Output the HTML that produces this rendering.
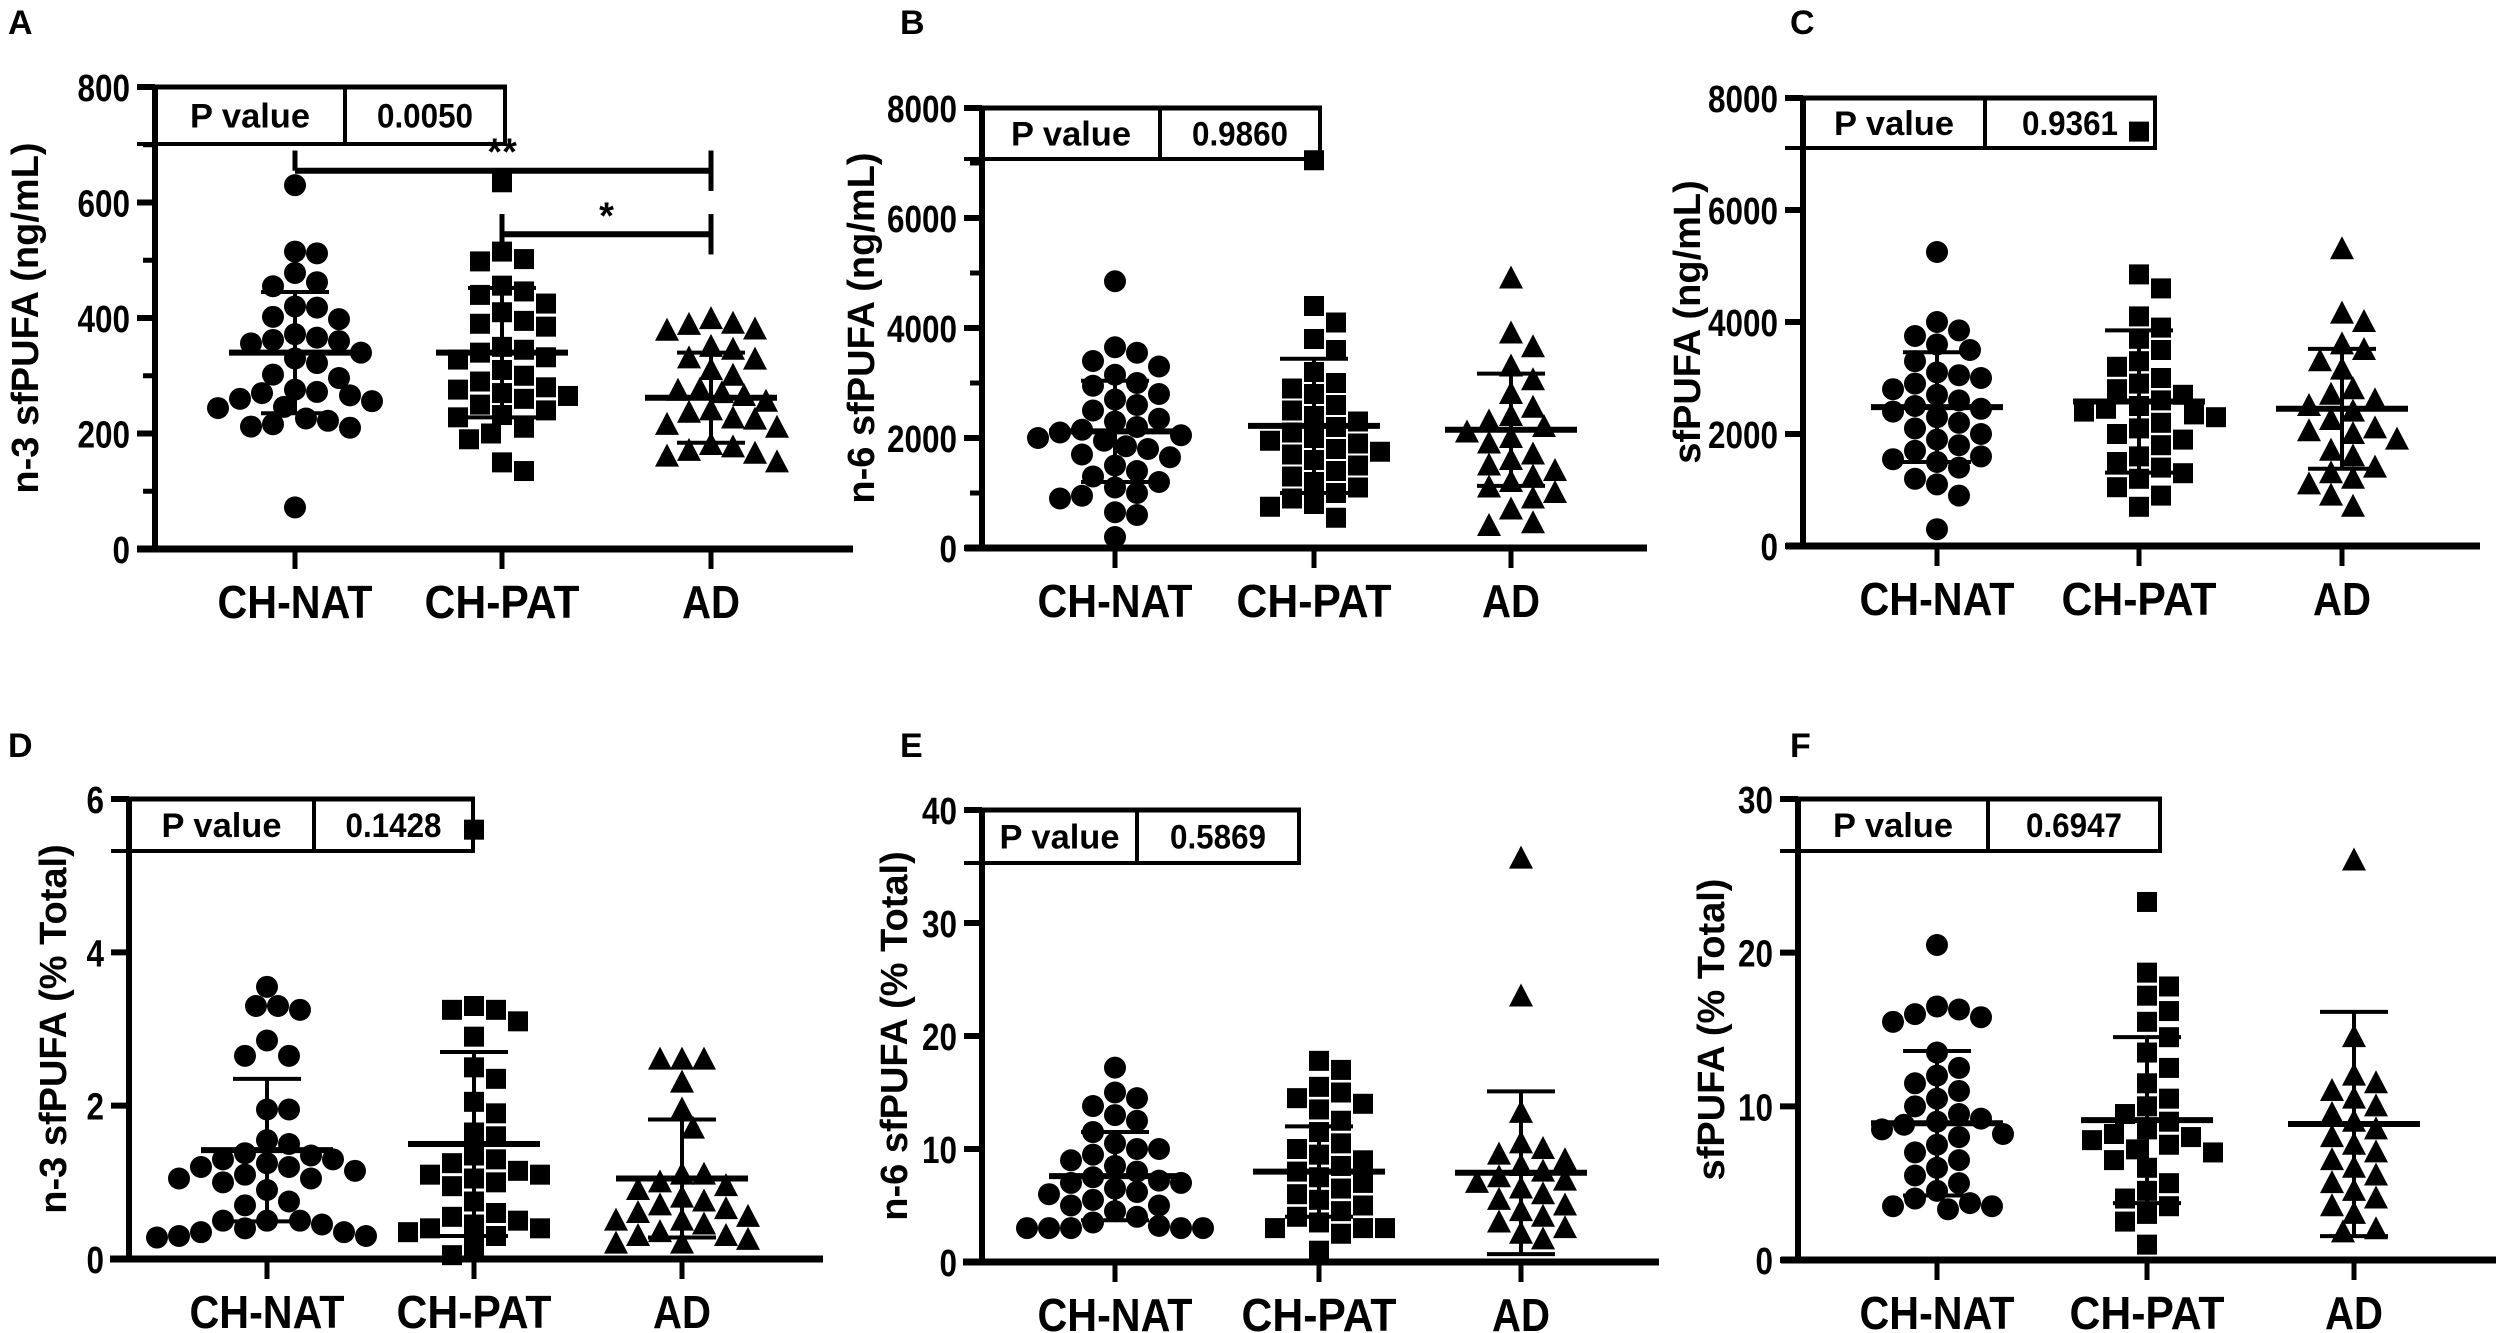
<!DOCTYPE html>
<html>
<head>
<meta charset="utf-8">
<style>
  html,body{margin:0;padding:0;background:#fff;}
  svg{display:block;}
  .tick{font-family:"Liberation Sans Narrow","Liberation Sans",sans-serif;font-weight:bold;font-size:38px;fill:#000;}
  .cat{font-family:"Liberation Sans Narrow","Liberation Sans",sans-serif;font-weight:bold;font-size:46px;fill:#000;}
  .ptxt{font-family:"Liberation Sans Narrow","Liberation Sans",sans-serif;font-weight:bold;font-size:34px;fill:#000;}
  .ttl{font-family:"Liberation Sans",sans-serif;font-weight:bold;font-size:38px;fill:#000;}
  .letter{font-family:"Liberation Sans",sans-serif;font-weight:bold;font-size:34px;fill:#000;}
</style>
</head>
<body>
<svg id="fig" xmlns="http://www.w3.org/2000/svg" width="2500" height="1333" viewBox="0 0 2500 1333"></svg>
<script>
// ---------- DATA ----------
const categories = ["CH-NAT", "CH-PAT", "AD"];

// Panel A: n-3 sfPUFA (ng/mL)
const A_nat = [630,515,512,478,462,455,420,418,402,398,372,366,360,356,362,340,330,322,302,296,276,272,270,266,260,256,246,244,226,222,212,210,216,72];
const A_pat = [635,515,502,498,456,446,440,425,410,395,390,385,350,345,340,332,328,310,300,290,280,276,270,265,260,250,240,232,228,210,200,190,150,135];
const A_ad  = [398,390,388,380,378,350,345,330,328,310,300,276,274,270,265,255,240,236,226,224,215,210,180,176,170,165,160,150];
const A_mean = [340,340,262];
const A_sd = [105,112,78];

// Panel B: n-6 sfPUFA (ng/mL)
const B_nat = [4850,3650,3550,3400,3300,3150,3000,2950,2800,2700,2600,2500,2350,2300,2200,2150,2100,2050,2000,1950,1850,1800,1700,1650,1500,1400,1300,1200,1100,1000,950,900,650,600,200];
const B_pat = [7050,4400,4100,3800,3600,3200,3000,2900,2800,2600,2500,2400,2300,2200,2100,2000,1950,1900,1800,1750,1700,1600,1500,1400,1300,1200,1100,1000,900,800,750,550];
const B_ad  = [4900,3900,3650,3300,3050,2800,2550,2400,2300,2200,2100,2000,1900,1700,1600,1500,1400,1300,1200,1100,1000,900,700,450,400];
const B_mean = [2120,2220,2150];
const B_sd = [920,1220,1020];

// Panel C: sfPUFA (ng/mL)
const C_nat = [5250,4000,3850,3750,3600,3500,3300,3100,3050,3000,2900,2800,2700,2600,2500,2450,2400,2300,2200,2100,2000,1900,1800,1700,1600,1550,1500,1400,1200,1100,900,300];
const C_pat = [7400,4850,4600,4100,3900,3700,3500,3300,3200,3000,2900,2800,2700,2600,2500,2450,2400,2350,2300,2200,2100,2000,1900,1800,1600,1500,1400,1300,1200,1050,900,700];
const C_ad  = [5300,4150,4000,3600,3500,3300,3150,2800,2700,2600,2500,2400,2250,2100,2050,2000,1900,1700,1600,1400,1300,1200,1100,900,700];
const C_mean = [2480,2580,2450];
const C_sd = [980,1270,1070];

// Panel D: n-3 sfPUFA (% Total)
const D_nat = [3.55,3.3,3.25,3.3,2.85,2.65,2.65,1.95,1.95,1.55,1.5,1.38,1.35,1.3,1.3,1.25,1.2,1.2,1.15,1.1,1.05,1.05,1.0,0.9,0.75,0.7,0.5,0.5,0.5,0.45,0.4,0.35,0.35,0.3,0.3,0.28];
const D_pat = [5.6,3.25,3.3,3.25,3.1,2.9,2.5,2.35,2.05,1.9,1.65,1.6,1.35,1.3,1.25,1.15,1.1,1.1,1.05,1.0,0.95,0.75,0.6,0.55,0.5,0.45,0.4,0.4,0.35,0.3,0.15,0.05];
const D_ad  = [2.6,2.6,2.6,2.3,1.95,1.7,1.1,1.1,1.0,0.95,0.9,0.8,0.75,0.7,0.65,0.6,0.55,0.5,0.5,0.45,0.35,0.3,0.3,0.25,0.2,0.2];
const D_mean = [1.42,1.5,1.05];
const D_sd = [0.93,1.2,0.77];

// Panel E: n-6 sfPUFA (% Total)
const E_nat = [17.2,15,14.5,13.8,13,12.5,11.5,10.5,10,10,9.5,9,8.5,8,7.5,7.2,7,7,6.5,6.2,6,5.5,5,5,4.5,4,3.5,3.2,3,3,3,3,3];
const E_pat = [17.8,17,15.5,15,14.5,14,13.5,12.5,11.5,10.5,10,9.5,9,8.5,8,7.5,7,6.5,6,5.5,5,4.5,4,3.5,3,3,3,2.5,1];
const E_ad  = [35.7,23.5,13.2,10.5,10,9.5,9,8.5,8,7.5,7.2,7,6.5,6,5.5,5,4.5,4,3.5,3,2.5,2];
const E_mean = [7.6,8.0,7.9];
const E_sd = [3.9,4.0,7.2];

// Panel F: sfPUFA (% Total)
const F_nat = [20.5,16.5,16.3,16,15.8,15.5,13.5,12.5,12,11.5,11,10.5,10,9.5,9.2,9,8.8,8.5,8.2,8,7.5,7,6.5,6,5.5,5,4.5,4,3.7,3.5,3.5,3.3];
const F_pat = [23.3,18.7,17.8,17.2,16.2,15.5,14.5,13.5,12.5,11.5,10.5,10,9.5,9,8.5,8.2,8,7.8,7.5,7.2,7,6.5,6,5,4.5,4,3.5,3,2.5,1];
const F_ad  = [26,14.5,12,11.5,11,10.5,10,9.5,9,8.5,8,7.5,7,6.5,6,5.5,5,4.5,4,3.5,3,2,1.8];
const F_mean = [8.9,9.1,8.85];
const F_sd = [4.7,5.4,7.3];

const pValues = ["0.0050","0.9860","0.9361","0.1428","0.5869","0.6947"];
const yTitles = ["n-3 sfPUFA (ng/mL)","n-6 sfPUFA (ng/mL)","sfPUFA (ng/mL)","n-3 sfPUFA (% Total)","n-6 sfPUFA (% Total)","sfPUFA (% Total)"];
const panelLetters = ["A","B","C","D","E","F"];
const yMaxes = [800,8000,8000,6,40,30];
const yTickLabels = [[0,200,400,600,800],[0,2000,4000,6000,8000],[0,2000,4000,6000,8000],[0,2,4,6],[0,10,20,30,40],[0,10,20,30]];
const yMinorTicks = [[100,300,500,700],[1000,3000,5000,7000],[],[],[],[]];
const sigLevels = [655,545]; // A: ** (CH-NAT vs AD), * (CH-PAT vs AD)
const sigLabels = ["**","*"];

// ---------- LAYOUT (pixels, not data) ----------
const layout = [
  {ax:155,y0:549,yTop:87,x1:137,x2:853,cx:[295,502,711],div:345,right:505,tb:144,tx:26,lx:8,ly:34},
  {ax:982,y0:548,yTop:108,x1:965,x2:1647,cx:[1115,1314,1511],div:1160,right:1320,tb:159,tx:862,lx:900,ly:34},
  {ax:1803,y0:546,yTop:98,x1:1786,x2:2480,cx:[1937,2139,2342],div:1985,right:2155,tb:148,tx:1688,lx:1790,ly:34},
  {ax:129,y0:1259,yTop:799,x1:110,x2:823,cx:[267,474,682],div:314,right:473,tb:851,tx:54,lx:8,ly:757},
  {ax:982,y0:1262,yTop:810,x1:963,x2:1659,cx:[1115,1319,1521],div:1137,right:1299,tb:863,tx:895,lx:900,ly:757},
  {ax:1798,y0:1260,yTop:799,x1:1781,x2:2496,cx:[1937,2147,2354],div:1988,right:2160,tb:851,tx:1712,lx:1790,ly:757}
];
const groups = [[A_nat,A_pat,A_ad],[B_nat,B_pat,B_ad],[C_nat,C_pat,C_ad],[D_nat,D_pat,D_ad],[E_nat,E_pat,E_ad],[F_nat,F_pat,F_ad]];
const means = [A_mean,B_mean,C_mean,D_mean,E_mean,F_mean];
const sds = [A_sd,B_sd,C_sd,D_sd,E_sd,F_sd];

const NS = "http://www.w3.org/2000/svg";
const svg = document.getElementById('fig');
function mk(tag, attrs, parent){
  const e = document.createElementNS(NS, tag);
  for (const k in attrs) e.setAttribute(k, attrs[k]);
  (parent||svg).appendChild(e);
  return e;
}

for (let p = 0; p < 6; p++) {
  const L = layout[p];
  const yScale = v => L.y0 - (v / yMaxes[p]) * (L.y0 - L.yTop);
  const g = mk('g', {});
  
  

  const lt = mk('text', {x:L.lx, y:L.ly, class:'letter'}, g);
  lt.textContent = panelLetters[p];
  
  

  const tcy = (L.y0 + L.yTop) / 2;
  const tt = mk('text', {x:0, y:0, class:'ttl', 'text-anchor':'middle', 'dominant-baseline':'central', transform:`translate(${L.tx},${tcy}) rotate(-90)`}, g);
  tt.textContent = yTitles[p];
  
  

  const yAxis = mk('line', {x1:L.ax, y1:L.yTop-2, x2:L.ax, y2:L.y0+3, stroke:'#000', 'stroke-width':6}, g);
  
  
  const xAxis = mk('line', {x1:L.x1, y1:L.y0, x2:L.x2, y2:L.y0, stroke:'#000', 'stroke-width':7}, g);
  
  

  yTickLabels[p].forEach(v => {
    const y = yScale(v);
    const tk = mk('line', {x1:L.ax-18, y1:y, x2:L.ax, y2:y, stroke:'#000', 'stroke-width':6}, g);
    
    
    const s = String(v);
    const tl = mk('text', {x:L.ax-25, y:y+14, class:'tick', 'text-anchor':'end', textLength: s.length*17.5, lengthAdjust:'spacingAndGlyphs'}, g);
    tl.textContent = s;
    
    
  });
  yMinorTicks[p].forEach(v => {
    const y = yScale(v);
    const tk = mk('line', {x1:L.ax-12, y1:y, x2:L.ax, y2:y, stroke:'#000', 'stroke-width':5}, g);
    
    
  });

  categories.forEach((c, i) => {
    const x = L.cx[i];
    const tk = mk('line', {x1:x, y1:L.y0, x2:x, y2:L.y0+20, stroke:'#000', 'stroke-width':5}, g);
    
    
    const tl = mk('text', {x:x, y:L.y0+69, class:'cat', 'text-anchor':'middle', textLength: (c === 'AD' ? 58 : 155), lengthAdjust:'spacingAndGlyphs'}, g);
    tl.textContent = c;
    
    
  });

  const tb = mk('g', {}, g);
  
  
  mk('line', {x1:L.ax-18, y1:L.yTop, x2:L.right+2, y2:L.yTop, stroke:'#000', 'stroke-width':5}, tb);
  mk('line', {x1:L.ax-18, y1:L.tb, x2:L.right+2, y2:L.tb, stroke:'#000', 'stroke-width':4}, tb);
  mk('line', {x1:L.right, y1:L.yTop, x2:L.right, y2:L.tb, stroke:'#000', 'stroke-width':4}, tb);
  mk('line', {x1:L.div, y1:L.yTop, x2:L.div, y2:L.tb, stroke:'#000', 'stroke-width':4}, tb);
  const my = (L.yTop + L.tb) / 2 + 12;
  const pl = mk('text', {x:(L.ax + L.div)/2, y:my, class:'ptxt', 'text-anchor':'middle', textLength:120, lengthAdjust:'spacingAndGlyphs'}, tb);
  pl.textContent = 'P value';
  
  
  const pv = mk('text', {x:(L.div + L.right)/2, y:my, class:'ptxt', 'text-anchor':'middle', textLength:96, lengthAdjust:'spacingAndGlyphs'}, tb);
  pv.textContent = pValues[p];
  
  

  const d = 22;
  groups[p].forEach((vals, gi) => {
    const placed = [];
    const sorted = vals.slice().sort((a,b) => b - a);
    sorted.forEach(v => {
      const y = yScale(v);
      let off = 0;
      for (let k = 0; k < 40; k++) {
        const cand = (k === 0) ? 0 : (k % 2 ? 1 : -1) * Math.ceil(k/2) * d * 0.5;
        const ok = placed.every(pt => Math.hypot(pt[0]-cand, pt[1]-y) >= d*0.92);
        if (ok) { off = cand; break; }
      }
      placed.push([off, y]);
      const x = L.cx[gi] + off;
      let m;
      if (gi === 0) m = mk('circle', {cx:x, cy:y, r:11, fill:'#000'}, g);
      else if (gi === 1) m = mk('rect', {x:x-10, y:y-10, width:20, height:20, fill:'#000'}, g);
      else m = mk('polygon', {points:`${x},${y-13} ${x-12},${y+10} ${x+12},${y+10}`, fill:'#000'}, g);
      
      
    });

    const cx = L.cx[gi];
    const mean = means[p][gi], sd = sds[p][gi];
    const ym = yScale(mean), yh = yScale(mean + sd), yl = yScale(Math.max(mean - sd, 0));
    const ml = mk('line', {x1:cx-66, y1:ym, x2:cx+66, y2:ym, stroke:'#000', 'stroke-width':6}, g);
    
    
    const sl = mk('line', {x1:cx, y1:yh, x2:cx, y2:yl, stroke:'#000', 'stroke-width':4}, g);
    
    
    const c1 = mk('line', {x1:cx-34, y1:yh, x2:cx+34, y2:yh, stroke:'#000', 'stroke-width':4}, g);
    
    
    const c2 = mk('line', {x1:cx-34, y1:yl, x2:cx+34, y2:yl, stroke:'#000', 'stroke-width':4}, g);
    
    
  });

  if (p === 0) {
    const span = yScale(0) - yScale(35);
    const pairs = [[0,2],[1,2]];
    pairs.forEach((pr, si) => {
      const y = yScale(sigLevels[si]);
      const xa = L.cx[pr[0]], xb = L.cx[pr[1]];
      const sg = mk('g', {}, g);
      
      
      mk('line', {x1:xa, y1:y, x2:xb, y2:y, stroke:'#000', 'stroke-width':6}, sg);
      mk('line', {x1:xa, y1:y - span, x2:xa, y2:(si === 0 ? y : y + span), stroke:'#000', 'stroke-width':5}, sg);
      mk('line', {x1:xb, y1:y - span, x2:xb, y2:y + span, stroke:'#000', 'stroke-width':5}, sg);
      const tx = si === 0 ? L.cx[1] : (xa + xb) / 2;
      const st = mk('text', {x:tx, y:y - 6, class:'ttl', 'text-anchor':'middle', 'font-size':'42'}, sg);
      st.textContent = sigLabels[si];
      
      
    });
  }
}
</script>
</body>
</html>
